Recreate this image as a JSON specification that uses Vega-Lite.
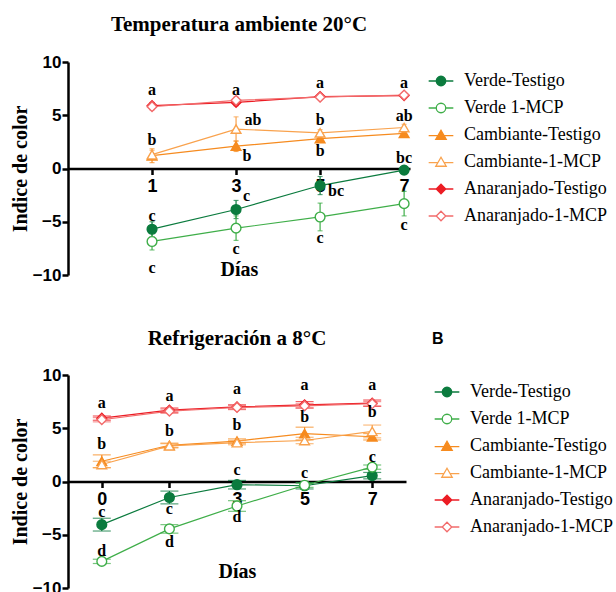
{
  "$schema": "https://vega.github.io/schema/vega-lite/v6.json",
  "background": "white",
  "padding": {"left": 10, "top": 14, "right": 0, "bottom": 0},
  "config": {
    "view": {"stroke": null},
    "concat": {"spacing": 45},
    "axis": {
      "grid": false,
      "domainColor": "black", "domainWidth": 2.5,
      "tickColor": "black", "tickWidth": 2.5, "tickSize": 6,
      "labelColor": "black", "labelFont": "Liberation Sans", "labelFontSize": 17, "labelFontWeight": "bold",
      "titleColor": "black", "titleFont": "Liberation Serif", "titleFontSize": 20, "titleFontWeight": "bold"
    },
    "legend": {
      "padding": 0, "labelFont": "Liberation Serif", "labelFontSize": 18, "labelColor": "black", "labelFontWeight": "normal",
      "symbolSize": 90, "symbolStrokeWidth": 1.3, "rowPadding": 9, "labelOffset": 14, "symbolOpacity": 1
    },
    "title": {"font": "Liberation Serif", "fontSize": 21, "fontWeight": "bold", "color": "black", "anchor": "middle", "frame": "group"}
  },
  "datasets": {
    "top": [
      {"s": "Verde-Testigo", "d": 1, "v": -5.7, "e": 0.7},
      {"s": "Verde-Testigo", "d": 3, "v": -3.85, "e": 0.85},
      {"s": "Verde-Testigo", "d": 5, "v": -1.6, "e": 0.85},
      {"s": "Verde-Testigo", "d": 7, "v": -0.15, "e": 0.25},
      {"s": "Verde 1-MCP", "d": 1, "v": -6.85, "e": 0.8},
      {"s": "Verde 1-MCP", "d": 3, "v": -5.6, "e": 1.15},
      {"s": "Verde 1-MCP", "d": 5, "v": -4.55, "e": 1.3},
      {"s": "Verde 1-MCP", "d": 7, "v": -3.3, "e": 1.15},
      {"s": "Cambiante-Testigo", "d": 1, "v": 1.2, "e": 0.65},
      {"s": "Cambiante-Testigo", "d": 3, "v": 2.1, "e": 0.5},
      {"s": "Cambiante-Testigo", "d": 5, "v": 2.8, "e": 0.3},
      {"s": "Cambiante-Testigo", "d": 7, "v": 3.3, "e": 0.3},
      {"s": "Cambiante-1-MCP", "d": 1, "v": 1.3, "e": 0.4},
      {"s": "Cambiante-1-MCP", "d": 3, "v": 3.7, "e": 1.15},
      {"s": "Cambiante-1-MCP", "d": 5, "v": 3.35, "e": 0.3},
      {"s": "Cambiante-1-MCP", "d": 7, "v": 3.85, "e": 0.3},
      {"s": "Anaranjado-Testigo", "d": 1, "v": 5.9, "e": 0.3},
      {"s": "Anaranjado-Testigo", "d": 3, "v": 6.2, "e": 0.3},
      {"s": "Anaranjado-Testigo", "d": 5, "v": 6.75, "e": 0.2},
      {"s": "Anaranjado-Testigo", "d": 7, "v": 6.85, "e": 0.2},
      {"s": "Anaranjado-1-MCP", "d": 1, "v": 5.8, "e": 0.3},
      {"s": "Anaranjado-1-MCP", "d": 3, "v": 6.4, "e": 0.3},
      {"s": "Anaranjado-1-MCP", "d": 5, "v": 6.7, "e": 0.2},
      {"s": "Anaranjado-1-MCP", "d": 7, "v": 6.9, "e": 0.2}
    ],
    "topLetters": [
      {"d": 1, "v": 7.4, "t": "a"}, {"d": 1, "v": 2.7, "t": "b"}, {"d": 1, "v": -4.5, "t": "c"}, {"d": 1, "v": -9.3, "t": "c"},
      {"d": 3, "v": 7.4, "t": "a"}, {"d": 3.4, "v": 4.6, "t": "ab"}, {"d": 3.26, "v": 1.15, "t": "b"}, {"d": 3.25, "v": -2.6, "t": "c"}, {"d": 3, "v": -7.6, "t": "c"},
      {"d": 5, "v": 8.0, "t": "a"}, {"d": 5, "v": 4.6, "t": "b"}, {"d": 5, "v": 1.6, "t": "b"}, {"d": 5.38, "v": -2.1, "t": "bc"}, {"d": 5, "v": -6.5, "t": "c"},
      {"d": 7, "v": 8.0, "t": "a"}, {"d": 7, "v": 4.9, "t": "ab"}, {"d": 7, "v": 1.0, "t": "bc"}, {"d": 7, "v": -5.3, "t": "c"}
    ],
    "bottom": [
      {"s": "Verde-Testigo", "d": 0, "v": -4.05, "e": 0.6},
      {"s": "Verde-Testigo", "d": 1, "v": -1.5, "e": 0.6},
      {"s": "Verde-Testigo", "d": 3, "v": -0.3, "e": 0.4},
      {"s": "Verde-Testigo", "d": 5, "v": -0.4, "e": 0.3},
      {"s": "Verde-Testigo", "d": 7, "v": 0.55, "e": 0.3},
      {"s": "Verde 1-MCP", "d": 0, "v": -7.5, "e": 0.2},
      {"s": "Verde 1-MCP", "d": 1, "v": -4.45, "e": 0.4},
      {"s": "Verde 1-MCP", "d": 3, "v": -2.3, "e": 0.5},
      {"s": "Verde 1-MCP", "d": 5, "v": -0.35, "e": 0.2},
      {"s": "Verde 1-MCP", "d": 7, "v": 1.35, "e": 0.2},
      {"s": "Cambiante-Testigo", "d": 0, "v": 1.9, "e": 0.6},
      {"s": "Cambiante-Testigo", "d": 1, "v": 3.4, "e": 0.2},
      {"s": "Cambiante-Testigo", "d": 3, "v": 3.8, "e": 0.2},
      {"s": "Cambiante-Testigo", "d": 5, "v": 4.5, "e": 0.6},
      {"s": "Cambiante-Testigo", "d": 7, "v": 4.2, "e": 0.3},
      {"s": "Cambiante-1-MCP", "d": 0, "v": 1.6, "e": 0.3},
      {"s": "Cambiante-1-MCP", "d": 1, "v": 3.35, "e": 0.2},
      {"s": "Cambiante-1-MCP", "d": 3, "v": 3.65, "e": 0.2},
      {"s": "Cambiante-1-MCP", "d": 5, "v": 3.85, "e": 0.3},
      {"s": "Cambiante-1-MCP", "d": 7, "v": 4.7, "e": 0.6},
      {"s": "Anaranjado-Testigo", "d": 0, "v": 5.95, "e": 0.2},
      {"s": "Anaranjado-Testigo", "d": 1, "v": 6.7, "e": 0.2},
      {"s": "Anaranjado-Testigo", "d": 3, "v": 7.0, "e": 0.2},
      {"s": "Anaranjado-Testigo", "d": 5, "v": 7.2, "e": 0.3},
      {"s": "Anaranjado-Testigo", "d": 7, "v": 7.35, "e": 0.3},
      {"s": "Anaranjado-1-MCP", "d": 0, "v": 5.8, "e": 0.2},
      {"s": "Anaranjado-1-MCP", "d": 1, "v": 6.6, "e": 0.2},
      {"s": "Anaranjado-1-MCP", "d": 3, "v": 6.95, "e": 0.2},
      {"s": "Anaranjado-1-MCP", "d": 5, "v": 7.1, "e": 0.2},
      {"s": "Anaranjado-1-MCP", "d": 7, "v": 7.3, "e": 0.2}
    ],
    "bottomLetters": [
      {"d": 0, "v": 7.35, "t": "a"}, {"d": 0, "v": 3.5, "t": "b"}, {"d": 0, "v": -2.9, "t": "c"}, {"d": 0, "v": -6.55, "t": "d"},
      {"d": 1, "v": 8.0, "t": "a"}, {"d": 1, "v": 4.7, "t": "b"}, {"d": 1, "v": -2.55, "t": "c"}, {"d": 1, "v": -5.7, "t": "d"},
      {"d": 3, "v": 8.7, "t": "a"}, {"d": 3, "v": 5.3, "t": "b"}, {"d": 3, "v": 1.1, "t": "c"}, {"d": 3, "v": -3.35, "t": "d"},
      {"d": 5, "v": 9.1, "t": "a"}, {"d": 5, "v": 6.05, "t": "b"}, {"d": 5, "v": 0.8, "t": "c"},
      {"d": 7, "v": 9.1, "t": "a"}, {"d": 7, "v": 6.5, "t": "b"}, {"d": 7, "v": 2.3, "t": "c"}
    ]
  },
  "resolve": {
    "scale": {"color": "independent", "fill": "independent", "shape": "independent"},
    "legend": {"color": "independent", "fill": "independent", "shape": "independent"}
  },
  "vconcat": [
    {
      "width": 342, "height": 213,
      "title": {"text": "Temperatura ambiente 20°C", "offset": 18},
      "resolve": {
        "scale": {"color": "independent", "fill": "independent", "shape": "independent"},
        "legend": {"color": "independent", "fill": "independent", "shape": "independent"}
      },
      "encoding": {
        "x": {"field": "d", "type": "quantitative",
          "scale": {"domain": [-1, 7.14], "nice": false, "zero": false},
          "axis": {"values": [1, 3, 5, 7], "title": "Días", "orient": "bottom", "offset": -106.5, "labelPadding": 3, "titlePadding": 64, "labelFontSize": 18}},
        "y": {"field": "v", "type": "quantitative",
          "scale": {"domain": [-10, 10], "nice": false},
          "axis": {"values": [-10, -5, 0, 5, 10], "title": "Indice de color", "labelPadding": 1, "titlePadding": 2}}
      },
      "layer": [
        {
          "data": {"name": "top"},
          "encoding": {
            "color": {"field": "s", "type": "nominal", "legend": null,
              "scale": {"domain": ["Verde-Testigo", "Verde 1-MCP", "Cambiante-Testigo", "Cambiante-1-MCP", "Anaranjado-Testigo", "Anaranjado-1-MCP"],
                "range": ["#0b7b3e", "#3fae49", "#f68b1f", "#f9a24d", "#ec1c24", "#f26b6b"]}}
          },
          "layer": [
            {"mark": {"type": "line", "strokeWidth": 1.2}},
            {"mark": {"type": "errorbar", "ticks": true, "thickness": 1.2}, "encoding": {"yError": {"field": "e"}}},
            {"mark": {"type": "point", "filled": false, "size": 95, "strokeWidth": 1.4, "opacity": 1},
              "encoding": {
                "fill": {"field": "s", "type": "nominal", "legend": null,
                  "scale": {"domain": ["Verde-Testigo", "Verde 1-MCP", "Cambiante-Testigo", "Cambiante-1-MCP", "Anaranjado-Testigo", "Anaranjado-1-MCP"],
                    "range": ["#0b7b3e", "white", "#f68b1f", "white", "#ec1c24", "white"]}},
                "shape": {"field": "s", "type": "nominal", "legend": null,
                  "scale": {"domain": ["Verde-Testigo", "Verde 1-MCP", "Cambiante-Testigo", "Cambiante-1-MCP", "Anaranjado-Testigo", "Anaranjado-1-MCP"],
                    "range": ["circle", "circle", "triangle-up", "triangle-up", "diamond", "diamond"]}}
              }}
          ]
        },
        {
          "data": {"name": "top"},
          "mark": {"type": "point", "filled": false, "opacity": 0, "size": 90, "strokeWidth": 1.3},
          "encoding": {
            "color": {"field": "s", "type": "nominal",
              "scale": {"domain": ["Verde-Testigo", "Verde 1-MCP", "Cambiante-Testigo", "Cambiante-1-MCP", "Anaranjado-Testigo", "Anaranjado-1-MCP"],
                "range": ["#0b7b3e", "#3fae49", "#f68b1f", "#f9a24d", "#ec1c24", "#f26b6b"]},
              "legend": {"orient": "none", "legendX": 364, "legendY": 10, "title": null}},
            "fill": {"field": "s", "type": "nominal",
              "scale": {"domain": ["Verde-Testigo", "Verde 1-MCP", "Cambiante-Testigo", "Cambiante-1-MCP", "Anaranjado-Testigo", "Anaranjado-1-MCP"],
                "range": ["#0b7b3e", "white", "#f68b1f", "white", "#ec1c24", "white"]}},
            "shape": {"field": "s", "type": "nominal",
              "scale": {"domain": ["Verde-Testigo", "Verde 1-MCP", "Cambiante-Testigo", "Cambiante-1-MCP", "Anaranjado-Testigo", "Anaranjado-1-MCP"],
                "range": ["M-2.6,0H-1M1,0H2.6M1,0A1,1,0,1,1,-1,0A1,1,0,1,1,1,0Z", "M-2.6,0H-1M1,0H2.6M1,0A1,1,0,1,1,-1,0A1,1,0,1,1,1,0Z", "M-2.6,0.15H-0.67M0.67,0.15H2.6M0,-1L1.1,0.9L-1.1,0.9Z", "M-2.6,0.15H-0.67M0.67,0.15H2.6M0,-1L1.1,0.9L-1.1,0.9Z", "M-2.6,0H-1M1,0H2.6M-1,0L0,-1L1,0L0,1Z", "M-2.6,0H-1M1,0H2.6M-1,0L0,-1L1,0L0,1Z"]}}
          }
        },
        {
          "data": {"name": "topLetters"},
          "mark": {"type": "text", "font": "Liberation Serif", "fontSize": 16, "fontWeight": "bold", "baseline": "middle", "color": "black"},
          "encoding": {"text": {"field": "t"}}
        }
      ]
    },
    {
      "width": 338, "height": 213,
      "title": {"text": "Refrigeración a 8°C", "offset": -18},
      "resolve": {
        "scale": {"color": "independent", "fill": "independent", "shape": "independent"},
        "legend": {"color": "independent", "fill": "independent", "shape": "independent"}
      },
      "encoding": {
        "x": {"field": "d", "type": "ordinal",
          "scale": {"type": "point", "domain": [0, 1, 3, 5, 7], "padding": 0.5},
          "axis": {"title": "Días", "orient": "bottom", "offset": -106.5, "labelAngle": 0, "labelPadding": 3, "titlePadding": 53, "labelFontSize": 18,
            "labelExpr": "datum.value == 1 ? '' : datum.label"}},
        "y": {"field": "v", "type": "quantitative",
          "scale": {"domain": [-10, 10], "nice": false},
          "axis": {"values": [-10, -5, 0, 5, 10], "title": "Indice de color", "labelPadding": 1, "titlePadding": 2}}
      },
      "layer": [
        {
          "data": {"name": "bottom"},
          "encoding": {
            "color": {"field": "s", "type": "nominal", "legend": null,
              "scale": {"domain": ["Verde-Testigo", "Verde 1-MCP", "Cambiante-Testigo", "Cambiante-1-MCP", "Anaranjado-Testigo", "Anaranjado-1-MCP"],
                "range": ["#0b7b3e", "#3fae49", "#f68b1f", "#f9a24d", "#ec1c24", "#f26b6b"]}}
          },
          "layer": [
            {"mark": {"type": "line", "strokeWidth": 1.2}},
            {"mark": {"type": "errorbar", "ticks": true, "thickness": 1.2}, "encoding": {"yError": {"field": "e"}}},
            {"mark": {"type": "point", "filled": false, "size": 95, "strokeWidth": 1.4, "opacity": 1},
              "encoding": {
                "fill": {"field": "s", "type": "nominal", "legend": null,
                  "scale": {"domain": ["Verde-Testigo", "Verde 1-MCP", "Cambiante-Testigo", "Cambiante-1-MCP", "Anaranjado-Testigo", "Anaranjado-1-MCP"],
                    "range": ["#0b7b3e", "white", "#f68b1f", "white", "#ec1c24", "white"]}},
                "shape": {"field": "s", "type": "nominal", "legend": null,
                  "scale": {"domain": ["Verde-Testigo", "Verde 1-MCP", "Cambiante-Testigo", "Cambiante-1-MCP", "Anaranjado-Testigo", "Anaranjado-1-MCP"],
                    "range": ["circle", "circle", "triangle-up", "triangle-up", "diamond", "diamond"]}}
              }}
          ]
        },
        {
          "data": {"name": "bottom"},
          "mark": {"type": "point", "filled": false, "opacity": 0, "size": 90, "strokeWidth": 1.3},
          "encoding": {
            "color": {"field": "s", "type": "nominal",
              "scale": {"domain": ["Verde-Testigo", "Verde 1-MCP", "Cambiante-Testigo", "Cambiante-1-MCP", "Anaranjado-Testigo", "Anaranjado-1-MCP"],
                "range": ["#0b7b3e", "#3fae49", "#f68b1f", "#f9a24d", "#ec1c24", "#f26b6b"]},
              "legend": {"orient": "none", "legendX": 364, "legendY": -44, "title": "B",
                "titleFont": "Liberation Sans", "titleFontSize": 16, "titleFontWeight": "bold", "titleColor": "black", "titlePadding": 36, "symbolOffset": 6}},
            "fill": {"field": "s", "type": "nominal",
              "scale": {"domain": ["Verde-Testigo", "Verde 1-MCP", "Cambiante-Testigo", "Cambiante-1-MCP", "Anaranjado-Testigo", "Anaranjado-1-MCP"],
                "range": ["#0b7b3e", "white", "#f68b1f", "white", "#ec1c24", "white"]}},
            "shape": {"field": "s", "type": "nominal",
              "scale": {"domain": ["Verde-Testigo", "Verde 1-MCP", "Cambiante-Testigo", "Cambiante-1-MCP", "Anaranjado-Testigo", "Anaranjado-1-MCP"],
                "range": ["M-2.6,0H-1M1,0H2.6M1,0A1,1,0,1,1,-1,0A1,1,0,1,1,1,0Z", "M-2.6,0H-1M1,0H2.6M1,0A1,1,0,1,1,-1,0A1,1,0,1,1,1,0Z", "M-2.6,0.15H-0.67M0.67,0.15H2.6M0,-1L1.1,0.9L-1.1,0.9Z", "M-2.6,0.15H-0.67M0.67,0.15H2.6M0,-1L1.1,0.9L-1.1,0.9Z", "M-2.6,0H-1M1,0H2.6M-1,0L0,-1L1,0L0,1Z", "M-2.6,0H-1M1,0H2.6M-1,0L0,-1L1,0L0,1Z"]}}
          }
        },
        {
          "data": {"name": "bottomLetters"},
          "mark": {"type": "text", "font": "Liberation Serif", "fontSize": 16, "fontWeight": "bold", "baseline": "middle", "color": "black"},
          "encoding": {"text": {"field": "t"}}
        }
      ]
    }
  ]
}
